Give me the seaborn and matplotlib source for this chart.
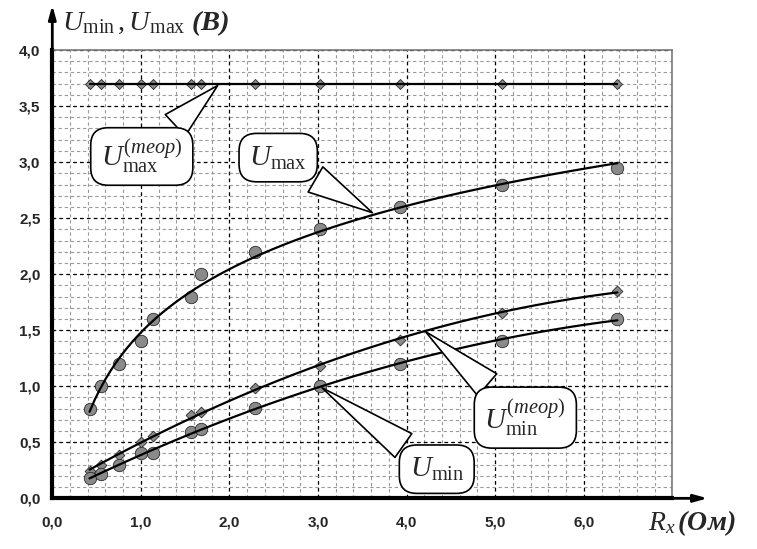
import matplotlib
matplotlib.use("Agg")
import matplotlib.pyplot as plt
import seaborn as sns
import numpy as np
from matplotlib.ticker import MultipleLocator, FuncFormatter

# ---- data ----
Rx = [0.42, 0.55, 0.75, 1.00, 1.14, 1.57, 1.68, 2.29, 3.02, 3.92, 5.08, 6.38]
Umax = [0.80, 1.00, 1.20, 1.40, 1.60, 1.80, 2.00, 2.20, 2.40, 2.60, 2.80, 2.95]
Umin = [0.18, 0.22, 0.30, 0.40, 0.40, 0.59, 0.62, 0.81, 1.00, 1.20, 1.40, 1.60]
Umin_theor = [0.24, 0.30, 0.39, 0.50, 0.56, 0.74, 0.77, 0.98, 1.18, 1.41, 1.65, 1.85]
Umax_theor = [3.70] * 12
x_ticks = [0, 1, 2, 3, 4, 5, 6, 7]
y_ticks = [0.0, 0.5, 1.0, 1.5, 2.0, 2.5, 3.0, 3.5, 4.0]

sns.set_style("white")
plt.rcParams['font.family'] = ['Liberation Sans', 'DejaVu Sans']
plt.rcParams['mathtext.fontset'] = 'custom'
plt.rcParams['mathtext.rm'] = 'Liberation Serif'
plt.rcParams['mathtext.it'] = 'Liberation Serif:italic'
plt.rcParams['mathtext.bf'] = 'Liberation Serif:bold:italic'

fig = plt.figure(figsize=(7.57, 5.49), dpi=100)
ax = fig.add_axes([0.0691, 0.0923, 0.8191, 0.8166])

ax.set_xlim(0, 7)
ax.set_ylim(0, 4)

# grid
ax.xaxis.set_major_locator(MultipleLocator(1))
ax.xaxis.set_minor_locator(MultipleLocator(0.2))
ax.yaxis.set_major_locator(MultipleLocator(0.5))
ax.yaxis.set_minor_locator(MultipleLocator(0.1))
ax.grid(which='minor', color='#9a9a9a', ls=(0, (3, 2.5)), lw=0.8)
ax.grid(which='major', color='black', ls=(0, (3, 2.5)), lw=0.9)
ax.set_axisbelow(True)

marker_fc = '#8a8a8a'
marker_ec = '#2a2a2a'

# trend lines
sns.regplot(x=Rx, y=Umax, logx=True, ci=None, scatter=False, ax=ax,
            line_kws=dict(color='black', lw=1.6, zorder=3))
sns.regplot(x=Rx, y=Umin, order=2, ci=None, scatter=False, ax=ax,
            line_kws=dict(color='black', lw=1.6, zorder=3))
sns.regplot(x=Rx, y=Umin_theor, order=2, ci=None, scatter=False, ax=ax,
            line_kws=dict(color='black', lw=1.6, zorder=3))
sns.lineplot(x=Rx, y=Umax_theor, ax=ax, color='black', lw=1.6, zorder=3)

# markers
sns.scatterplot(x=Rx, y=Umin_theor, marker='D', s=30, color=marker_fc,
                edgecolor=marker_ec, linewidth=0.6, ax=ax, zorder=2)
sns.scatterplot(x=Rx, y=Umax_theor, marker='D', s=26, color=marker_fc,
                edgecolor=marker_ec, linewidth=0.6, ax=ax, zorder=2)
sns.scatterplot(x=Rx, y=Umin, marker='o', s=80, color=marker_fc,
                edgecolor=marker_ec, linewidth=0.6, ax=ax, zorder=2)
sns.scatterplot(x=Rx, y=Umax, marker='o', s=80, color=marker_fc,
                edgecolor=marker_ec, linewidth=0.6, ax=ax, zorder=2)

# ticks
ax.set_xticks(x_ticks)
ax.set_yticks(y_ticks)
ax.xaxis.set_major_formatter(FuncFormatter(
    lambda v, p: '' if v > 6.5 else f"{v:.1f}".replace('.', ',')))
ax.yaxis.set_major_formatter(FuncFormatter(
    lambda v, p: f"{v:.1f}".replace('.', ',')))
ax.tick_params(which='major', direction='out', length=4.5, width=2, color='black',
               labelsize=11, pad=4)
ax.tick_params(axis='x', which='major', pad=8)
ax.tick_params(which='minor', length=0)
for lab in ax.get_xticklabels() + ax.get_yticklabels():
    lab.set_fontweight('bold')

# spines
for s in ['left', 'bottom']:
    ax.spines[s].set_linewidth(3)
    ax.spines[s].set_color('black')
for s in ['top', 'right']:
    ax.spines[s].set_linewidth(1.2)
    ax.spines[s].set_color('#7a7a7a')

# axis arrows
ax.annotate('', xy=(0, 1.100), xytext=(0, 0.99), xycoords='axes fraction',
            arrowprops=dict(arrowstyle='-|>,head_length=0.8,head_width=0.22',
                            lw=2, color='black', shrinkA=0, shrinkB=0),
            annotation_clip=False)
ax.annotate('', xy=(1.057, 0), xytext=(0.99, 0), xycoords='axes fraction',
            arrowprops=dict(arrowstyle='-|>,head_length=0.8,head_width=0.22',
                            lw=2, color='black', shrinkA=0, shrinkB=0),
            annotation_clip=False)

# axis titles
ax.text(0.016, 1.045, r"$U_{\mathrm{min}}\,,U_{\mathrm{max}}\ \mathbf{(В)}$",
        transform=ax.transAxes, fontsize=20.5, ha='left', va='baseline')
ax.text(0.96, -0.071, r"$R_{x}\,\mathbf{(Ом)}$",
        transform=ax.transAxes, fontsize=20, ha='left', va='baseline')

# callouts
bbox = dict(boxstyle='round,pad=0.35,rounding_size=0.6', fc='white', ec='black', lw=1.2)
wedge = dict(arrowstyle='wedge,tail_width=1.0,shrink_factor=0.5', fc='white',
             ec='black', lw=1.2)


def callout(text, tip, center, **kw):
    ax.annotate(text, xy=tip, xytext=center, ha='center', va='center',
                fontsize=21, bbox=bbox, arrowprops=wedge, zorder=6, **kw)


callout(r"$U_{\mathrm{max}}^{(\mathit{теор})}$", (1.89, 3.70), (1.01, 3.05))
callout(r"$U_{\mathrm{max}}$", (3.64, 2.536), (2.55, 3.04))
callout(r"$U_{\mathrm{min}}^{(\mathit{теор})}$", (4.19, 1.503), (5.34, 0.72))
callout(r"$U_{\mathrm{min}}$", (3.02, 1.00), (4.34, 0.26))

fig.savefig('out.png', dpi=100)
